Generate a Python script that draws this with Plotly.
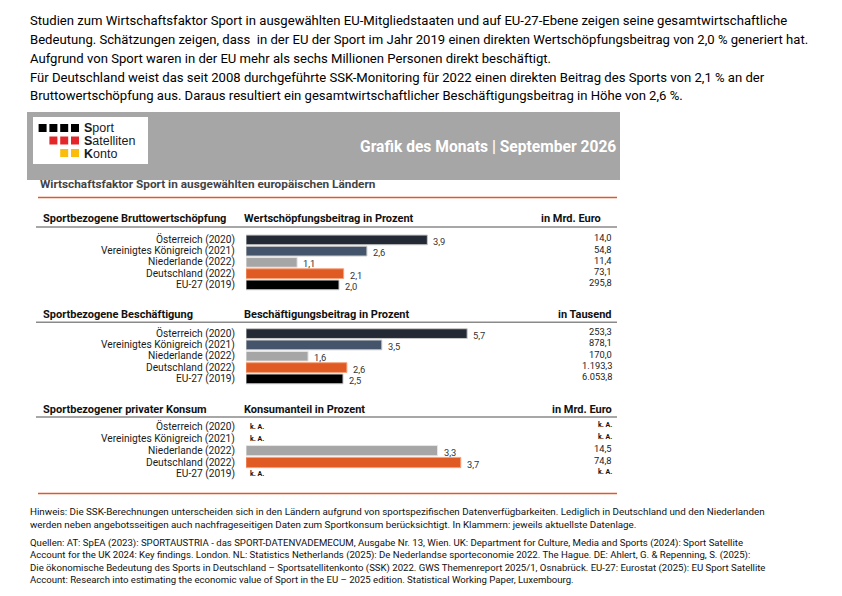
import plotly.graph_objects as go

# ---------------- data ----------------
countries = ["Österreich (2020)", "Vereinigtes Königreich (2021)", "Niederlande (2022)",
             "Deutschland (2022)", "EU-27 (2019)"]
bws_pct = [3.9, 2.6, 1.1, 2.1, 2.0]
bws_abs = [14.0, 54.8, 11.4, 73.1, 295.8]
emp_pct = [5.7, 3.5, 1.6, 2.6, 2.5]
emp_abs = [253.3, 878.1, 170.0, 1193.3, 6053.8]
kon_pct = [None, None, 3.3, 3.7, None]
kon_abs = [None, None, 14.5, 74.8, None]

bar_colors = ["#232a36", "#44546a", "#a6a6a6", "#e05a24", "#000000"]
bar_edges = ["#c8c8c8", "#c8c8c8", "#e6e6e6", "#f3a27c", "#c8c8c8"]

intro_lines = [
    "Studien zum Wirtschaftsfaktor Sport in ausgewählten EU-Mitgliedstaaten und auf EU-27-Ebene zeigen seine gesamtwirtschaftliche",
    "Bedeutung. Schätzungen zeigen, dass  in der EU der Sport im Jahr 2019 einen direkten Wertschöpfungsbeitrag von 2,0 % generiert hat.",
    "Aufgrund von Sport waren in der EU mehr als sechs Millionen Personen direkt beschäftigt.",
    "Für Deutschland weist das seit 2008 durchgeführte SSK-Monitoring für 2022 einen direkten Beitrag des Sports von 2,1 % an der",
    "Bruttowertschöpfung aus. Daraus resultiert ein gesamtwirtschaftlicher Beschäftigungsbeitrag in Höhe von 2,6 %.",
]
note_lines = [
    "Hinweis: Die SSK-Berechnungen unterscheiden sich in den Ländern aufgrund von sportspezifischen Datenverfügbarkeiten. Lediglich in Deutschland und den Niederlanden",
    "werden neben angebotsseitigen auch nachfrageseitigen Daten zum Sportkonsum berücksichtigt. In Klammern: jeweils aktuellste Datenlage.",
]
source_lines = [
    "Quellen: AT: SpEA (2023): SPORTAUSTRIA - das SPORT-DATENVADEMECUM, Ausgabe Nr. 13, Wien. UK: Department for Culture, Media and Sports (2024): Sport Satellite",
    "Account for the UK 2024: Key findings. London. NL: Statistics Netherlands (2025): De Nederlandse sporteconomie 2022. The Hague. DE: Ahlert, G. & Repenning, S. (2025):",
    "Die ökonomische Bedeutung des Sports in Deutschland – Sportsatellitenkonto (SSK) 2022. GWS Themenreport 2025/1, Osnabrück. EU-27: Eurostat (2025): EU Sport Satellite",
    "Account: Research into estimating the economic value of Sport in the EU – 2025 edition. Statistical Working Paper, Luxembourg.",
]
section_titles = ["Sportbezogene Bruttowertschöpfung", "Sportbezogene Beschäftigung", "Sportbezogener privater Konsum"]
measure_titles = ["Wertschöpfungsbeitrag in Prozent", "Beschäftigungsbeitrag in Prozent", "Konsumanteil in Prozent"]
unit_titles = ["in Mrd. Euro", "in Tausend", "in Mrd. Euro"]
header_title = "Grafik des Monats | September 2026"
subtitle = "Wirtschaftsfaktor Sport in ausgewählten europäischen Ländern"
logo_words = ["Sport", "Satelliten", "Konto"]

# ---------------- helpers ----------------
W, H = 842, 596
FONT = "Roboto, Liberation Sans, Arial, sans-serif"
LOGO_FONT = "Liberation Sans, Arial, sans-serif"


def fx(x):
    return x / W


def fy(y):
    return 1 - y / H


def de(v, dec=1):
    s = f"{v:,.{dec}f}"
    return s.replace(",", "X").replace(".", ",").replace("X", ".")


fig = go.Figure()
annotations = []
shapes = []

# layout geometry per section (pixels)
geo = [
    dict(header=218.5, line=227.0, top=230.9, bottom=294.4, ppu=46.5, unit_x=603),
    dict(header=314.0, line=322.3, top=324.6, bottom=388.4, ppu=38.8, unit_x=614),
    dict(header=409.0, line=417.0, top=418.4, bottom=482.4, ppu=58.05, unit_x=614),
]
pcts = [bws_pct, emp_pct, kon_pct]
abss = [bws_abs, emp_abs, kon_abs]
X0, X1 = 246, 560

for i in range(3):
    sfx = "" if i == 0 else str(i + 1)
    g = geo[i]
    pct = pcts[i]
    fig.add_trace(go.Bar(
        x=pct, y=countries, orientation="h",
        marker=dict(color=bar_colors, line=dict(color=bar_edges, width=1)),
        width=0.86, xaxis="x" + sfx, yaxis="y" + sfx,
        hoverinfo="skip", showlegend=False,
    ))
    fig.layout["xaxis" + sfx] = dict(
        domain=[fx(X0), fx(X1)], range=[0, (X1 - X0) / g["ppu"]],
        visible=False, anchor="y" + sfx, fixedrange=True)
    fig.layout["yaxis" + sfx] = dict(
        domain=[fy(g["bottom"]), fy(g["top"])], type="category",
        categoryorder="array", categoryarray=countries, autorange="reversed",
        visible=False, anchor="x" + sfx, fixedrange=True)

    # headers
    hy = fy(g["header"])
    hfont = dict(size=11, color="#111111", family=FONT)
    annotations += [
        dict(text="<b>" + section_titles[i] + "</b>", x=fx(41), y=hy, xanchor="left",
             yanchor="middle", font=hfont),
        dict(text="<b>" + measure_titles[i] + "</b>", x=fx(242), y=hy, xanchor="left",
             yanchor="middle", font=hfont),
        dict(text="<b>" + unit_titles[i] + "</b>", x=fx(g["unit_x"]), y=hy, xanchor="right",
             yanchor="middle", font=hfont),
    ]
    shapes.append(dict(type="line", xref="paper", yref="paper", x0=fx(36), x1=fx(617),
                       y0=fy(g["line"]), y1=fy(g["line"]),
                       line=dict(color="#8a8a8a", width=1.6)))

    for c, v, a in zip(countries, pct, abss[i]):
        annotations.append(dict(text=c, xref="paper", x=fx(237), yref="y" + sfx, y=c,
                                xanchor="right", yanchor="middle",
                                font=dict(size=10.2, color="#1a1a1a", family=FONT)))
        if v is not None:
            annotations.append(dict(text=de(v), xref="x" + sfx, x=v, yref="y" + sfx, y=c,
                                    xanchor="left", yanchor="middle", xshift=4, yshift=-1.5,
                                    font=dict(size=9.3, color="#333333", family=FONT)))
        else:
            annotations.append(dict(text="<b>k. A.</b>", xref="x" + sfx, x=0, yref="y" + sfx, y=c,
                                    xanchor="left", yanchor="middle", xshift=2,
                                    font=dict(size=7, color="#111111", family=FONT)))
        if a is not None:
            annotations.append(dict(text=de(a), xref="paper", x=fx(614), yref="y" + sfx, y=c,
                                    xanchor="right", yanchor="middle", yshift=2,
                                    font=dict(size=9.3, color="#222222", family=FONT)))
        else:
            annotations.append(dict(text="<b>k. A.</b>", xref="paper", x=fx(614), yref="y" + sfx,
                                    y=c, xanchor="right", yanchor="middle", yshift=2,
                                    font=dict(size=7, color="#111111", family=FONT)))

# ---------------- header band & logo ----------------
shapes += [
    dict(type="rect", xref="paper", yref="paper", x0=fx(27), x1=fx(620), y0=fy(180), y1=fy(112),
         fillcolor="#a6a6a6", line=dict(width=0), layer="below"),
    dict(type="rect", xref="paper", yref="paper", x0=fx(33), x1=fx(148), y0=fy(164), y1=fy(117),
         fillcolor="#ffffff", line=dict(width=0)),
    dict(type="line", xref="paper", yref="paper", x0=fx(38), x1=fx(617), y0=fy(197.5), y1=fy(197.5),
         line=dict(color="#e05a24", width=1.6)),
    dict(type="line", xref="paper", yref="paper", x0=fx(38), x1=fx(617), y0=fy(493.5), y1=fy(493.5),
         line=dict(color="#e05a24", width=1.6)),
]
logo_rows = [(["#000000"] * 4, 124), (["#e3262a"] * 3, 136.5), (["#fbbd0a"] * 2, 149)]
for cols, ytop in logo_rows:
    n = len(cols)
    for k, col in enumerate(cols):
        xr = 79 - (n - 1 - k) * 10.8
        shapes.append(dict(type="rect", xref="paper", yref="paper", x0=fx(xr - 8), x1=fx(xr),
                           y0=fy(ytop + 8), y1=fy(ytop), fillcolor=col, line=dict(width=0)))
for k, w in enumerate(logo_words):
    annotations.append(dict(text="<b>" + w[0] + "</b>" + w[1:], x=fx(82), y=fy(128 + k * 13),
                            xanchor="left", yanchor="middle",
                            font=dict(size=12.5, color="#1a1a1a", family=LOGO_FONT)))

annotations += [
    dict(text="<b>" + header_title + "</b>", x=fx(618), y=fy(147), xanchor="right", yanchor="middle",
         font=dict(size=15.6, color="#ffffff", family=FONT)),
    dict(text="<b>" + subtitle + "</b>", x=fx(38), y=fy(183.5), xanchor="left", yanchor="middle",
         font=dict(size=11.8, color="#444444", family=FONT)),
]
for k, line in enumerate(intro_lines):
    annotations.append(dict(text=line, x=fx(28), y=fy(21 + k * 18.7), xanchor="left", yanchor="middle",
                            font=dict(size=13.1, color="#000000", family=FONT)))
for k, line in enumerate(note_lines):
    annotations.append(dict(text=line, x=fx(28), y=fy(511 + k * 13), xanchor="left", yanchor="middle",
                            font=dict(size=9.8, color="#111111", family=FONT)))
for k, line in enumerate(source_lines):
    annotations.append(dict(text=line, x=fx(28), y=fy(543 + k * 12.3), xanchor="left", yanchor="middle",
                            font=dict(size=9.6, color="#111111", family=FONT)))

for a in annotations:
    a.setdefault("xref", "paper")
    a.setdefault("yref", "paper")
    a["showarrow"] = False

fig.update_layout(
    width=W, height=H, margin=dict(l=0, r=0, t=0, b=0),
    paper_bgcolor="#ffffff", plot_bgcolor="rgba(0,0,0,0)",
    annotations=annotations, shapes=shapes, bargap=0.14,
    font=dict(family=FONT),
)

fig.write_html("out.html", config={"displayModeBar": False, "staticPlot": True},
               post_script="document.body.style.margin='0';document.body.style.overflow='hidden';")
